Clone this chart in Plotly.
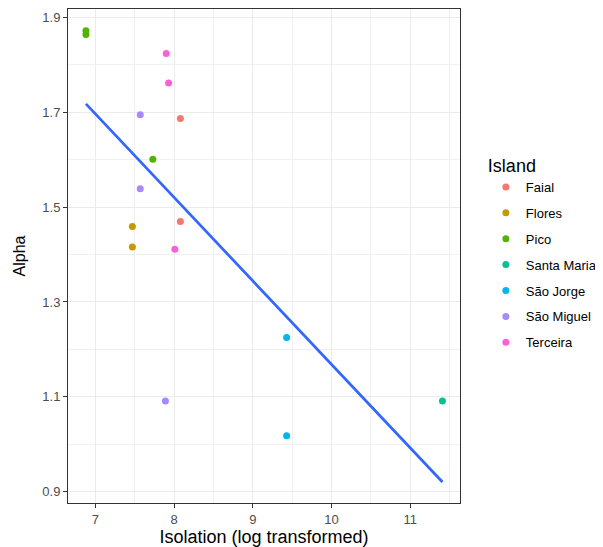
import numpy as np
import plotly.graph_objects as go

islands = ["Faial", "Flores", "Pico", "Santa Maria", "São Jorge", "São Miguel", "Terceira"]
colors = ["#F8766D", "#C49A00", "#53B400", "#00C094", "#00B6EB", "#A58AFF", "#FB61D7"]

isolation = {
    "Faial": [8.08, 8.08],
    "Flores": [7.47, 7.47],
    "Pico": [6.88, 6.88, 7.73],
    "Santa Maria": [11.41],
    "São Jorge": [9.43, 9.43],
    "São Miguel": [7.57, 7.57, 7.89],
    "Terceira": [7.90, 7.93, 8.01],
}
alpha = {
    "Faial": [1.687, 1.470],
    "Flores": [1.459, 1.416],
    "Pico": [1.872, 1.864, 1.601],
    "Santa Maria": [1.091],
    "São Jorge": [1.225, 1.018],
    "São Miguel": [1.695, 1.539, 1.091],
    "Terceira": [1.824, 1.762, 1.411],
}

x_ticks = [7, 8, 9, 10, 11]
y_ticks = [0.9, 1.1, 1.3, 1.5, 1.7, 1.9]
y_ticklabels = ["0.9", "1.1", "1.3", "1.5", "1.7", "1.9"]

FONT = "Liberation Sans, Arial, sans-serif"

fig = go.Figure()

# linear fit (geom_smooth, method = "lm")
all_x = np.concatenate([isolation[k] for k in islands])
all_y = np.concatenate([alpha[k] for k in islands])
slope, intercept = np.polyfit(all_x, all_y, 1)
xs = np.linspace(all_x.min(), all_x.max(), 50)
fig.add_trace(go.Scatter(x=xs, y=intercept + slope * xs, mode="lines",
                         line=dict(color="#3366FF", width=2.7), showlegend=False,
                         hoverinfo="skip"))

for isl, c in zip(islands, colors):
    fig.add_trace(go.Scatter(x=isolation[isl], y=alpha[isl], mode="markers", name=isl,
                             legendgroup=isl,
                             marker=dict(color=c, size=7)))

axis_common = dict(
    showline=True, linecolor="#333333", linewidth=1, mirror=True,
    showgrid=True, gridcolor="#EBEBEB", gridwidth=1,
    ticks="outside", ticklen=4, tickcolor="#333333", tickwidth=1,
    tickfont=dict(family=FONT, size=13, color="#4D4D4D"),
    zeroline=False, automargin=False,
)

fig.update_xaxes(**axis_common, range=[6.652, 11.633], tickvals=x_ticks,
                 minor=dict(tickvals=[6.5, 7.5, 8.5, 9.5, 10.5, 11.5], showgrid=True,
                            gridcolor="#F0F0F0", gridwidth=0.6, ticks=""),
                 title=dict(text="Isolation (log transformed)",
                            font=dict(family=FONT, size=18, color="#000000"),
                            standoff=2))
fig.update_yaxes(**axis_common, range=[0.876, 1.918], tickvals=y_ticks,
                 ticktext=y_ticklabels,
                 minor=dict(tickvals=[1.0, 1.2, 1.4, 1.6, 1.8], showgrid=True,
                            gridcolor="#F0F0F0", gridwidth=0.6, ticks=""),
                 title=dict(text="Alpha",
                            font=dict(family=FONT, size=16, color="#000000"),
                            standoff=12))

# the page body adds an 8px margin, so the figure is sized to fit the window
fig.update_layout(
    width=595, height=539,
    margin=dict(l=60, r=141, t=1, b=44),
    paper_bgcolor="white", plot_bgcolor="white",
    legend=dict(title=dict(text="Island", font=dict(family=FONT, size=18, color="#000000")),
                font=dict(family=FONT, size=13, color="#000000"),
                x=1.066, y=0.506, xanchor="left", yanchor="middle", tracegroupgap=6,
                itemwidth=30),
)

fig.write_html("out.html")
